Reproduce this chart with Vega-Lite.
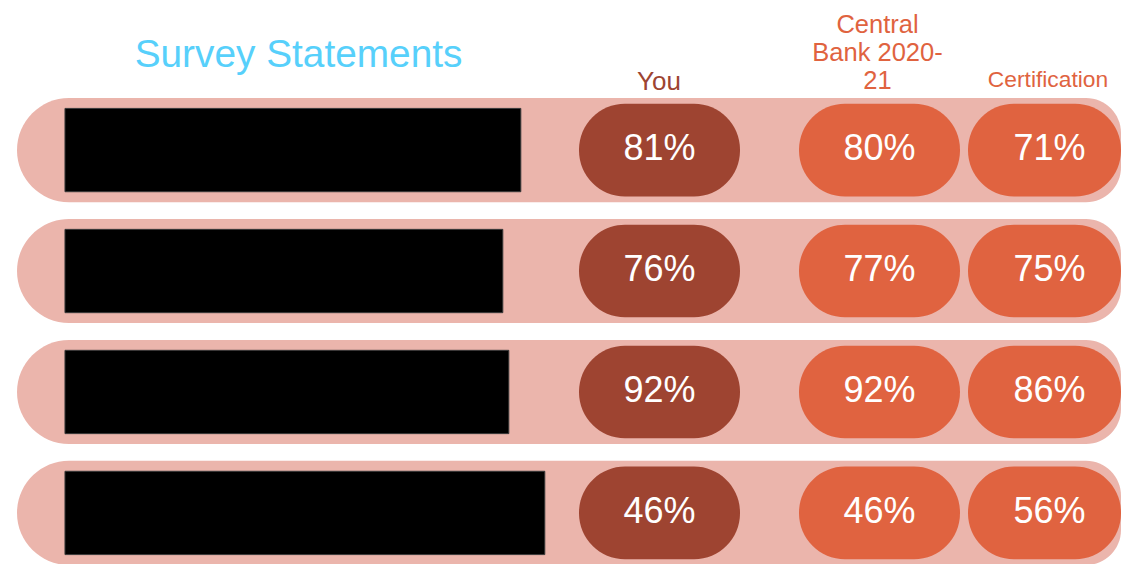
{
  "$schema": "https://vega.github.io/schema/vega-lite/v6.json",
  "background": "white",
  "padding": {"left": 17, "top": 12, "right": 0, "bottom": 0},
  "spacing": 0,
  "bounds": "flush",
  "datasets": {
    "statements": [
      {"statement": 1, "textLength": 76},
      {"statement": 2, "textLength": 73},
      {"statement": 3, "textLength": 74},
      {"statement": 4, "textLength": 80}
    ],
    "scores": [
      {"statement": 1, "group": "You", "pct": 0.81},
      {"statement": 1, "group": "Central Bank 2020-21", "pct": 0.80},
      {"statement": 1, "group": "Certification", "pct": 0.71},
      {"statement": 2, "group": "You", "pct": 0.76},
      {"statement": 2, "group": "Central Bank 2020-21", "pct": 0.77},
      {"statement": 2, "group": "Certification", "pct": 0.75},
      {"statement": 3, "group": "You", "pct": 0.92},
      {"statement": 3, "group": "Central Bank 2020-21", "pct": 0.92},
      {"statement": 3, "group": "Certification", "pct": 0.86},
      {"statement": 4, "group": "You", "pct": 0.46},
      {"statement": 4, "group": "Central Bank 2020-21", "pct": 0.46},
      {"statement": 4, "group": "Certification", "pct": 0.56}
    ]
  },
  "resolve": {"scale": {"x": "independent", "y": "shared"}},
  "hconcat": [
    {
      "width": 553,
      "height": 467,
      "data": {"name": "statements"},
      "title": {"text": "Survey Statements", "color": "#57D0FB", "fontSize": 38.8, "fontWeight": "normal", "font": "Liberation Sans", "anchor": "middle", "baseline": "bottom", "offset": -16, "dx": 5, "frame": "group"},
      "layer": [
        {
          "mark": {"type": "rect", "color": "#EBB5AC", "cornerRadiusTopLeft": 52, "cornerRadiusBottomLeft": 52},
          "encoding": {
            "y": {"field": "statement", "type": "ordinal", "axis": null, "scale": {"paddingInner": 0.139, "paddingOuter": 0}}
          }
        },
        {
          "mark": {"type": "bar", "color": "#000000", "stroke": "#3a3a3a", "strokeWidth": 1, "height": {"band": 0.8}},
          "encoding": {
            "y": {"field": "statement", "type": "ordinal", "axis": null},
            "x": {"field": "textLength", "type": "quantitative", "axis": null, "scale": {"domain": [-8, 84.2], "nice": false, "zero": false}}
          }
        }
      ]
    },
    {
      "width": 220,
      "height": 467,
      "data": {"name": "scores"},
      "transform": [{"filter": "datum.group === 'You'"}],
      "title": {"text": "You", "color": "#9D4432", "fontSize": 26, "fontWeight": "normal", "font": "Liberation Sans", "anchor": "middle", "baseline": "bottom", "offset": -23, "dx": -21, "frame": "group"},
      "layer": [
        {
          "mark": {"type": "rect", "color": "#EBB5AC"},
          "encoding": {
            "y": {"field": "statement", "type": "ordinal", "axis": null}
          }
        },
        {
          "mark": {"type": "rect", "color": "#9E4431", "cornerRadius": 46, "height": {"band": 0.89}},
          "encoding": {
            "y": {"field": "statement", "type": "ordinal", "axis": null},
            "x": {"field": "group", "type": "nominal", "axis": null, "scale": {"paddingInner": 0, "paddingOuter": 0.1832, "align": 0.1525}}
          }
        },
        {
          "mark": {"type": "text", "color": "white", "fontSize": 36, "font": "Liberation Sans", "baseline": "middle", "dy": -1},
          "encoding": {
            "y": {"field": "statement", "type": "ordinal", "axis": null},
            "x": {"field": "group", "type": "nominal", "axis": null},
            "text": {"field": "pct", "type": "quantitative", "format": ".0%"}
          }
        }
      ]
    },
    {
      "width": 175,
      "height": 467,
      "data": {"name": "scores"},
      "transform": [{"filter": "datum.group === 'Central Bank 2020-21'"}],
      "title": {"text": ["Central", "Bank 2020-", "21"], "color": "#E0633F", "fontSize": 25.5, "lineHeight": 28, "fontWeight": "normal", "font": "Liberation Sans", "anchor": "middle", "baseline": "bottom", "offset": -21, "frame": "group"},
      "layer": [
        {
          "mark": {"type": "rect", "color": "#EBB5AC"},
          "encoding": {
            "y": {"field": "statement", "type": "ordinal", "axis": null}
          }
        },
        {
          "mark": {"type": "rect", "color": "#E06340", "cornerRadius": 46, "height": {"band": 0.89}},
          "encoding": {
            "y": {"field": "statement", "type": "ordinal", "axis": null},
            "x": {"field": "group", "type": "nominal", "axis": null, "scale": {"paddingInner": 0, "paddingOuter": 0.0435, "align": 0.643}}
          }
        },
        {
          "mark": {"type": "text", "color": "white", "fontSize": 36, "font": "Liberation Sans", "baseline": "middle", "dy": -1},
          "encoding": {
            "y": {"field": "statement", "type": "ordinal", "axis": null},
            "x": {"field": "group", "type": "nominal", "axis": null},
            "text": {"field": "pct", "type": "quantitative", "format": ".0%"}
          }
        }
      ]
    },
    {
      "width": 156,
      "height": 467,
      "data": {"name": "scores"},
      "transform": [{"filter": "datum.group === 'Certification'"}],
      "title": {"text": "Certification", "color": "#E0633F", "fontSize": 22.8, "fontWeight": "normal", "font": "Liberation Sans", "anchor": "middle", "baseline": "bottom", "offset": -17, "dx": 5, "frame": "group"},
      "layer": [
        {
          "mark": {"type": "rect", "color": "#EBB5AC", "cornerRadiusTopRight": 35, "cornerRadiusBottomRight": 35},
          "encoding": {
            "y": {"field": "statement", "type": "ordinal", "axis": null}
          }
        },
        {
          "mark": {"type": "rect", "color": "#E06340", "cornerRadius": 46, "height": {"band": 0.89}},
          "encoding": {
            "y": {"field": "statement", "type": "ordinal", "axis": null},
            "x": {"field": "group", "type": "nominal", "axis": null, "scale": {"paddingInner": 0, "paddingOuter": 0.0098, "align": 1}}
          }
        },
        {
          "mark": {"type": "text", "color": "white", "fontSize": 36, "font": "Liberation Sans", "baseline": "middle", "dy": -1, "dx": 5},
          "encoding": {
            "y": {"field": "statement", "type": "ordinal", "axis": null},
            "x": {"field": "group", "type": "nominal", "axis": null},
            "text": {"field": "pct", "type": "quantitative", "format": ".0%"}
          }
        }
      ]
    }
  ],
  "config": {
    "view": {"stroke": null},
    "font": "Liberation Sans"
  }
}
